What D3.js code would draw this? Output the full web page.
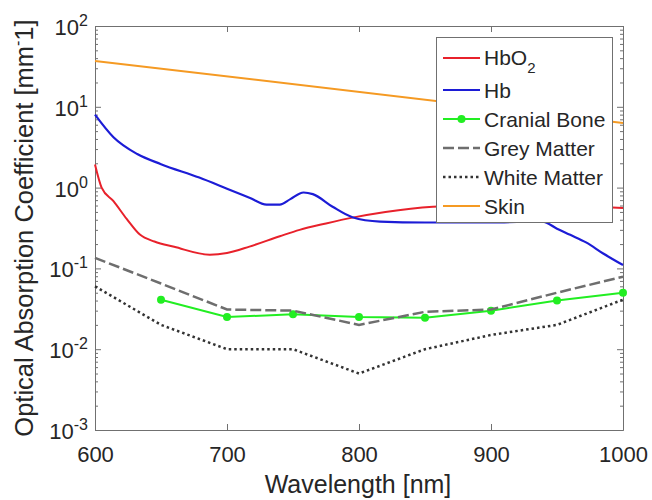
<!DOCTYPE html>
<html>
<head>
<meta charset="utf-8">
<script src="https://cdn.jsdelivr.net/npm/d3@7"></script>
<style>
body { margin: 0; background: #fff; }
text { font-family: Arial, "Liberation Sans", Helvetica, sans-serif; fill: #262626; }
</style>
</head>
<body>
<script>
// values (wavelength in nm, coefficient in mm^-1)
var hbo2Wl  = [600, 605, 614, 624, 634, 645, 660, 687, 700, 717, 740, 755, 775, 795, 820, 856, 900, 950, 1000];
var hbo2Val = [1.93, 1.0, 0.68, 0.41, 0.262, 0.215, 0.185, 0.148, 0.155, 0.186, 0.25, 0.30, 0.36, 0.425, 0.5, 0.58, 0.61, 0.6, 0.56];

var hbWl  = [600, 614, 632, 650, 679, 700, 717, 730, 740, 748, 758, 765, 780, 795, 816, 850, 900, 939, 950, 960, 972, 985, 1000];
var hbVal = [8.0, 4.2, 2.6, 1.95, 1.33, 0.97, 0.75, 0.616, 0.616, 0.72, 0.87, 0.83, 0.58, 0.43, 0.38, 0.37, 0.37, 0.38, 0.31, 0.26, 0.21, 0.153, 0.11];

var tissueWl  = [600, 650, 700, 750, 800, 850, 900, 950, 1000];
var boneWl    = [650, 700, 750, 800, 850, 900, 950, 1000];
var boneVal   = [0.041, 0.025, 0.027, 0.025, 0.0245, 0.030, 0.040, 0.050];
var greyVal   = [0.135, 0.065, 0.031, 0.030, 0.020, 0.029, 0.031, 0.050, 0.079];
var whiteVal  = [0.06, 0.02, 0.010, 0.010, 0.005, 0.010, 0.015, 0.020, 0.041];
var skinWl    = [600, 1000];
var skinVal   = [37, 6.3];

var xTicks = [600, 700, 800, 900, 1000];
var yExps  = [-3, -2, -1, 0, 1, 2];
var legendNames = ["HbO", "Hb", "Cranial Bone", "Grey Matter", "White Matter", "Skin"];

var margin = {top: 26, right: 29, bottom: 70, left: 95};
var width = 652 - margin.left - margin.right;
var height = 500 - margin.top - margin.bottom;

var svg = d3.select("body").append("svg")
    .attr("width", 652)
    .attr("height", 500);

var g = svg.append("g")
    .attr("transform", "translate(" + margin.left + "," + margin.top + ")");

var xScale = d3.scaleLinear()
    .domain([600, 1000])
    .range([0, width]);

var yScale = d3.scaleLog()
    .domain([1e-3, 1e2])
    .range([height, 0]);

// minor log ticks 2..9 per decade
var minorTicks = [];
yExps.slice(0, -1).forEach(function(e) {
    for (var k = 2; k <= 9; k++) minorTicks.push(k * Math.pow(10, e));
});
var majorTicks = yExps.map(function(e) { return Math.pow(10, e); });

function styleAxis(sel) {
    sel.selectAll("path, line").attr("stroke", "#707070").attr("stroke-width", 1);
}

// x axis, bottom and top
g.append("g")
    .attr("transform", "translate(0," + height + ")")
    .call(d3.axisBottom(xScale).tickValues(xTicks).tickFormat(d3.format("d"))
        .tickSizeInner(-6).tickSizeOuter(0).tickPadding(16))
    .call(styleAxis)
    .selectAll("text")
        .attr("font-size", 22)
        .attr("fill", "#262626")
        .style("font-family", "Arial, 'Liberation Sans', sans-serif");

g.append("g")
    .call(d3.axisTop(xScale).tickValues(xTicks).tickSizeInner(-6).tickSizeOuter(0).tickFormat(""))
    .call(styleAxis);

// y axis, left and right, major + minor
g.append("g")
    .call(d3.axisLeft(yScale).tickValues(majorTicks).tickSizeInner(-6).tickSizeOuter(0).tickFormat(""))
    .call(styleAxis);
g.append("g")
    .call(d3.axisLeft(yScale).tickValues(minorTicks).tickSizeInner(-3).tickSizeOuter(0).tickFormat(""))
    .call(styleAxis);
g.append("g")
    .attr("transform", "translate(" + width + ",0)")
    .call(d3.axisRight(yScale).tickValues(majorTicks).tickSizeInner(-6).tickSizeOuter(0).tickFormat(""))
    .call(styleAxis);
g.append("g")
    .attr("transform", "translate(" + width + ",0)")
    .call(d3.axisRight(yScale).tickValues(minorTicks).tickSizeInner(-3).tickSizeOuter(0).tickFormat(""))
    .call(styleAxis);

// y tick labels as 10^n
var yLab = g.append("g").selectAll("text")
    .data(yExps)
    .enter().append("text")
        .attr("text-anchor", "end")
        .attr("font-size", 22)
        .attr("x", -7)
        .attr("y", function(d) { return yScale(Math.pow(10, d)) + 9; });
yLab.append("tspan").text("10");
yLab.append("tspan")
    .attr("font-size", 16)
    .attr("dy", -9)
    .text(function(d) { return d < 0 ? "-" + (-d) : String(d); });

// lines
var line = d3.line()
    .x(function(d) { return xScale(d[0]); })
    .y(function(d) { return yScale(d[1]); });
var smooth = d3.line()
    .curve(d3.curveMonotoneX)
    .x(function(d) { return xScale(d[0]); })
    .y(function(d) { return yScale(d[1]); });

var series = [
    {wl: hbo2Wl, val: hbo2Val, color: "#e8212b", dash: null, gen: smooth, width: 2},
    {wl: hbWl, val: hbVal, color: "#1c1cd6", dash: null, gen: smooth, width: 2.2},
    {wl: boneWl, val: boneVal, color: "#22ee22", dash: null, gen: line, width: 2, marker: true},
    {wl: tissueWl, val: greyVal, color: "#6e6e6e", dash: "11,4", gen: line, width: 2.5},
    {wl: tissueWl, val: whiteVal, color: "#333333", dash: "2.5,3", gen: line, width: 2.5},
    {wl: skinWl, val: skinVal, color: "#f59a23", dash: null, gen: line, width: 2}
];

series.forEach(function(s) {
    var pts = d3.zip(s.wl, s.val);
    g.append("path")
        .datum(pts)
        .attr("fill", "none")
        .attr("stroke", s.color)
        .attr("stroke-width", s.width)
        .attr("stroke-dasharray", s.dash)
        .attr("d", s.gen);
    if (s.marker) {
        g.selectAll(null)
            .data(pts)
            .enter().append("circle")
                .attr("cx", function(d) { return xScale(d[0]); })
                .attr("cy", function(d) { return yScale(d[1]); })
                .attr("r", 4)
                .attr("fill", s.color);
    }
});

// axis titles
svg.append("text")
    .text("Wavelength [nm]")
    .attr("text-anchor", "middle")
    .attr("font-size", 25)
    .attr("x", 358)
    .attr("y", 493);

var yTitle = svg.append("text")
    .attr("text-anchor", "middle")
    .attr("font-size", 25.5)
    .attr("transform", "translate(33,228) rotate(-90)");
yTitle.append("tspan").text("Optical Absorption Coefficient [mm");
yTitle.append("tspan").attr("font-size", 16).attr("dy", -10).text("-");
yTitle.append("tspan").attr("dy", 10).text("1]");

// legend
var leg = svg.append("g");
leg.append("rect")
    .attr("x", 436.5)
    .attr("y", 37.5)
    .attr("width", 176)
    .attr("height", 185)
    .attr("fill", "#fff")
    .attr("stroke", "#707070")
    .attr("stroke-width", 1);

var rowY = function(i) { return i === 0 ? 58 : 90 + 29 * (i - 1); };

var rows = leg.selectAll("g.row")
    .data(legendNames)
    .enter().append("g")
        .attr("class", "row")
        .attr("transform", function(d, i) { return "translate(0," + rowY(i) + ")"; });

rows.append("line")
    .attr("x1", 443)
    .attr("x2", 480)
    .attr("stroke", function(d, i) { return series[i].color; })
    .attr("stroke-width", function(d, i) { return series[i].width; })
    .attr("stroke-dasharray", function(d, i) { return series[i].dash; });

rows.filter(function(d, i) { return series[i].marker; })
    .append("circle")
        .attr("cx", 461.5)
        .attr("r", 4)
        .attr("fill", series[2].color);

var legText = rows.append("text")
    .attr("x", 484)
    .attr("y", function(d, i) { return i === 0 ? 7 : 8; })
    .attr("font-size", 21)
    .text(function(d) { return d; });
legText.filter(function(d, i) { return i === 0; })
    .append("tspan")
        .attr("font-size", 15)
        .attr("dy", 8)
        .text("2");
</script>
</body>
</html>
